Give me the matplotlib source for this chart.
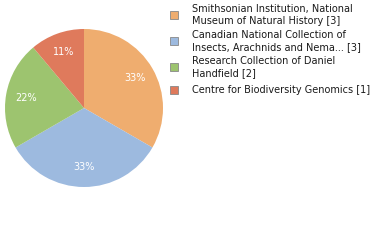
import matplotlib.pyplot as plt
from matplotlib.patches import Rectangle

labels = ["Smithsonian Institution, National\nMuseum of Natural History [3]",
          "Canadian National Collection of\nInsects, Arachnids and Nema... [3]",
          "Research Collection of Daniel\nHandfield [2]",
          "Centre for Biodiversity Genomics [1]"]
counts = [3, 3, 2, 1]
colors = ["#efad6f", "#9dbadf", "#9dc46f", "#df7a5c"]

fig = plt.figure(figsize=(3.8, 2.4), dpi=100)
ax = fig.add_axes([(84 - 79) / 380, (240 - 108 - 79) / 240, 158 / 380, 158 / 240])
wedges, texts, autotexts = ax.pie(counts, colors=colors, startangle=90, counterclock=False,
                                  autopct=lambda p: "%d%%" % round(p), pctdistance=0.75,
                                  wedgeprops=dict(linewidth=0))
for t in autotexts:
    t.set_color("white")
    t.set_fontsize(7)
ax.set_xlim(-1, 1)
ax.set_ylim(-1, 1)
ax.set_aspect("equal")

# legend, drawn by hand
row_y = [15, 41, 67, 90]
for y, lab, c in zip(row_y, labels, colors):
    fig.patches.append(Rectangle((170 / 380, 1 - (y + 4) / 240), 8 / 380, 8 / 240,
                                 facecolor=c, edgecolor="#888888", linewidth=0.6,
                                 transform=fig.transFigure, figure=fig))
    fig.text(192 / 380, 1 - y / 240, lab, fontsize=7, va="center", ha="left",
             color="#1a1a1a", linespacing=1.2)

fig.savefig("out.png", dpi=100)
